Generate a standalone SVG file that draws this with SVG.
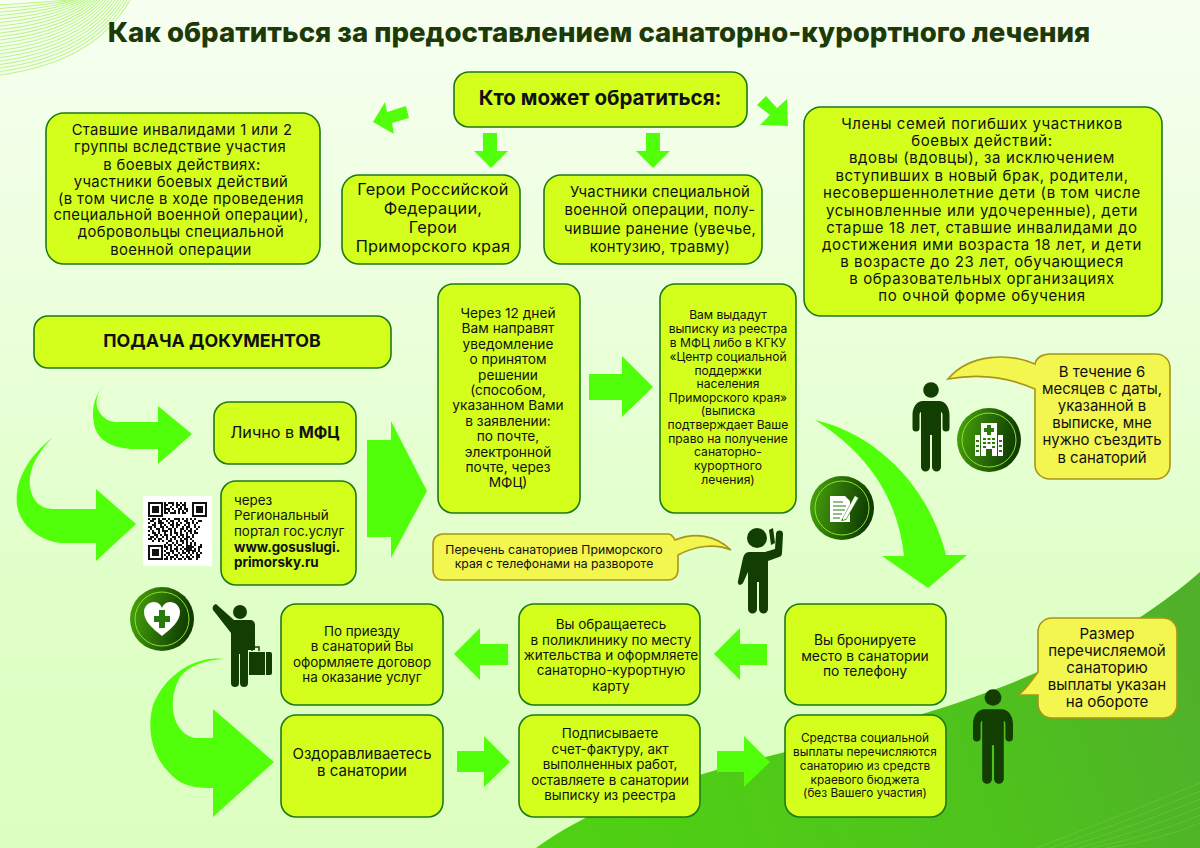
<svg xmlns="http://www.w3.org/2000/svg" width="1200" height="848" viewBox="0 0 1200 848">
<style>
text{font-family:"Inter","Liberation Sans",sans-serif;fill:#111;text-anchor:middle}
.box{fill:#d4ff1c;stroke:#1d7a16;stroke-width:1.6}
.call{fill:#f3f64e;stroke:#a8951a;stroke-width:1.6}
.arr{fill:#52ff0a}
.p{fill:#123e02}
.l{text-anchor:start}
.b{font-weight:700}
.t13{font-size:13.4px}
.wide{font-size:14.800px;letter-spacing:.38px}
.fam{font-size:15px;letter-spacing:.6px}
.ic{fill:#fff}
.wl{fill:none;stroke:#bdf58c;stroke-width:1.100}
.wl2{fill:none;stroke:#7fd85a;stroke-width:1;opacity:.35}
</style>
<defs>
<linearGradient id="bg" x1="0" y1="0" x2="0" y2="1"><stop offset="0" stop-color="#f7fff1"/><stop offset=".7" stop-color="#e0ffc8"/><stop offset="1" stop-color="#dcffc0"/></linearGradient>
<linearGradient id="gr" gradientUnits="userSpaceOnUse" x1="600" y1="848" x2="1200" y2="640"><stop offset="0" stop-color="#4fd014"/><stop offset=".6" stop-color="#4ec31c"/><stop offset="1" stop-color="#50b02a"/></linearGradient>
<linearGradient id="badge" x1="0" y1="0" x2="1" y2="0.2"><stop offset="0" stop-color="#4aa90c"/><stop offset="1" stop-color="#0f3a02"/></linearGradient>
<g id="badgeBase"><circle r="32" fill="url(#badge)"/><circle r="27" fill="none" stroke="#8fe02e" stroke-width="1"/></g>
<g id="person"><circle cx="0" cy="8" r="7.8"/><path d="M-8,19H8C14,19 18.5,25 18.5,33V46A3.5,3.5 0 0 1 11.5,46V33C11.5,31 10.5,30 10,30V85A4.5,4.5 0 0 1 1,85V53H-1V85A4.5,4.5 0 0 1 -10,85V30C-10.500,30 -11.5,31 -11.5,33V46A3.5,3.5 0 0 1 -18.5,46V33C-18.5,25 -14,19 -8,19Z"/></g>
</defs>
<rect width="1200" height="848" fill="url(#bg)"/>
<path d="M536,848C585,812 645,791 706,773C780,751 860,737 919,715C990,693 1105,655 1200,572V848Z" fill="url(#gr)"/>
<g id="bottom-lines" class="wl2">
<path d="M1036,848Q1110,820 1200,783"/><path d="M1050,848Q1120,824 1200,791"/><path d="M1064,848Q1130,828 1200,799"/><path d="M1078,848Q1140,832 1200,807"/><path d="M1092,848Q1150,836 1200,815"/><path d="M1106,848Q1160,840 1200,823"/>
</g>
<g id="corner-lines" class="wl">
<path d="M130,0Q95,62 0,75"/><path d="M127,0Q92,59 0,71.500"/><path d="M124,0Q89.500,56 0,68"/><path d="M121,0Q87,53 0,64.500"/><path d="M118,0Q84.500,50 0,61"/><path d="M115,0Q82,47 0,57.500"/><path d="M112,0Q79.500,44 0,54"/><path d="M109,0Q77,41 0,50.500"/><path d="M106,0Q74.500,38 0,47"/><path d="M103,0Q72,35 0,43.500"/><path d="M100,0Q69.500,32 0,40"/><path d="M97,0Q67,29 0,36.500"/><path d="M94,0Q64.500,26 0,33"/><path d="M91,0Q62,23 0,29.500"/><path d="M88,0Q59.500,20 0,26"/><path d="M85,0Q57,17 0,22.500"/><path d="M82,0Q54.500,14 0,19"/><path d="M79,0Q52,11 0,15.500"/><path d="M76,0Q49.500,8 0,12"/><path d="M73,0Q47,5 0,8.500"/><path d="M70,0Q44.500,2 0,5"/>
</g>
<text id="title" x="599" y="42" font-size="27.600" font-weight="800" style="fill:#1d3a08">Как обратиться за предоставлением санаторно-курортного лечения</text>

<g id="connectors">
<polygon class="arr" points="373,122 385,102 387,112 406,106 409,118 392,123 394,134"/>
<polygon class="arr" points="483,133 497,133 497,151 508,151 491,168 474,151 483,151"/>
<polygon class="arr" points="646,133 660,133 660,151 670,151 653,168 636,151 646,151"/>
<polygon class="arr" points="766,96 777,108 787,99 788,126 760,125 770,115 757,105"/>
<path class="arr" d="M105,385C96,392 94,405 100,413C105,420 111,422 117,422H158V406L192,434L158,464V449H135C112,449 97,440 94,424C91,408 95,393 105,385Z"/>
<path class="arr" d="M52,438C36,455 28,470 30,487C32,500 40,509 53,509H96V489L136,524L96,561V543H60C38,540 20,525 17,505C14,480 30,455 52,438Z"/>
<polygon class="arr" points="367,440 391,440 391,421 427,491 391,558 391,537 367,537"/>
<polygon class="arr" points="589,374 622,374 622,356 653,387 622,417 622,400 589,400"/>
<path class="arr" d="M815,420C880,435 930,490 946,555H967L928,588L882,556H904C898,500 870,455 815,420Z"/>
<polygon class="arr" points="767,644 740,644 740,628 714,654 740,680 740,665 767,665"/>
<polygon class="arr" points="508,644 480,644 480,628 454,654 480,680 480,665 508,665"/>
<polygon class="arr" points="457,751 484,751 484,736 510,762 484,787 484,772 457,772"/>
<polygon class="arr" points="717,751 744,751 744,736 770,762 744,787 744,772 717,772"/>
<path class="arr" d="M225,659C195,655 165,675 153,705C145,735 155,765 180,782C190,787 200,788 213,788V817L274,762L213,709V738H195C175,735 165,705 180,677C190,665 205,660 225,659Z"/>
</g>

<g id="n-who"><rect class="box" x="454" y="72" width="293" height="55" rx="15"/><text x="600" y="105" font-size="20.500" class="b">Кто может обратиться:</text></g>
<g id="n-disabled"><rect class="box" x="46" y="113" width="274" height="151" rx="18"/><text class="wide" x="182"><tspan x="182" y="135">Ставшие инвалидами 1 или 2</tspan><tspan x="180" y="152">группы вследствие участия</tspan><tspan x="182" y="170">в боевых действиях:</tspan><tspan x="181" y="187">участники боевых действий</tspan><tspan x="181" y="204">(в том числе в ходе проведения</tspan><tspan x="181" y="220">специальной военной операции),</tspan><tspan x="181" y="237">добровольцы специальной</tspan><tspan x="181" y="255">военной операции</tspan></text></g>
<g id="n-heroes"><rect class="box" x="342" y="175" width="178" height="89" rx="17"/><text x="433" font-size="16.300" letter-spacing=".3"><tspan x="433" y="195">Герои Российской</tspan><tspan x="433" y="214">Федерации,</tspan><tspan x="433" y="233">Герои</tspan><tspan x="433" y="252">Приморского края</tspan></text></g>
<g id="n-svo"><rect class="box" x="544" y="175" width="218" height="89" rx="17"/><text font-size="14.800" letter-spacing=".3" x="660"><tspan x="660" y="197">Участники специальной</tspan><tspan x="660" y="215">военной операции, полу-</tspan><tspan x="660" y="234">чившие ранение (увечье,</tspan><tspan x="660" y="252">контузию, травму)</tspan></text></g>
<g id="n-family"><rect class="box" x="804" y="107" width="358" height="209" rx="17"/><text class="fam" x="982"><tspan x="982" y="129">Члены семей погибших участников</tspan><tspan x="982" y="146">боевых действий:</tspan><tspan x="982" y="163">вдовы (вдовцы), за исключением</tspan><tspan x="982" y="181">вступивших в новый брак, родители,</tspan><tspan x="982" y="198">несовершеннолетние дети (в том числе</tspan><tspan x="982" y="216">усыновленные или удочеренные), дети</tspan><tspan x="982" y="233">старше 18 лет, ставшие инвалидами до</tspan><tspan x="982" y="250">достижения ими возраста 18 лет, и дети</tspan><tspan x="982" y="267">в возрасте до 23 лет, обучающиеся</tspan><tspan x="982" y="284">в образовательных организациях</tspan><tspan x="982" y="301">по очной форме обучения</tspan></text></g>
<g id="n-submit"><rect class="box" x="34" y="316" width="357" height="52" rx="14"/><text x="212" y="347" font-size="17.800" class="b">ПОДАЧА ДОКУМЕНТОВ</text></g>
<g id="n-mfc"><rect class="box" x="214" y="402" width="142" height="62" rx="15"/><text x="285" y="438" font-size="16.200">Лично в <tspan class="b">МФЦ</tspan></text></g>
<g id="qr">
<rect x="143" y="496" width="69" height="70" fill="#fff"/>
<path fill="none" stroke="#111" stroke-width="2" d="M164,503h2m2,0h6m2,0h2m2,0h2m2,0h2M164,505h4m4,0h2m2,0h4m2,0h4M164,507h2m4,0h2m4,0h2m2,0h2m2,0h2M164,509h6m2,0h2m4,0h4m2,0h4M164,511h2m2,0h2m4,0h2m2,0h2m2,0h2m2,0h2M164,513h4m2,0h6m2,0h2m2,0h4M148,519h2m2,0h4m2,0h2m2,0h4m2,0h2m4,0h6m2,0h2m2,0h2m2,0h2m2,0h2M150,521h4m4,0h4m4,0h2m2,0h4m4,0h2m4,0h4m4,0h2m4,0h4M148,523h2m4,0h2m2,0h6m4,0h2m2,0h2m2,0h2m2,0h2m4,0h4m2,0h2m2,0h2M152,525h4m4,0h2m2,0h2m4,0h4m2,0h4m4,0h2m2,0h2m4,0h2M148,527h4m2,0h2m4,0h4m2,0h2m4,0h2m2,0h2m4,0h2m2,0h4m4,0h2m2,0h2M150,529h2m4,0h4m2,0h2m4,0h4m2,0h2m4,0h4m2,0h2m2,0h2m4,0h2M148,531h2m2,0h2m4,0h2m2,0h6m2,0h2m2,0h2m4,0h2m2,0h2m2,0h4m2,0h2M152,533h4m2,0h2m4,0h2m4,0h2m2,0h4m2,0h2m4,0h2m2,0h2m2,0h4M148,535h2m4,0h4m2,0h2m2,0h4m2,0h2m4,0h2m2,0h4m2,0h2m4,0h2M150,537h4m2,0h2m4,0h2m2,0h2m4,0h4m2,0h2m2,0h2m2,0h4m2,0h2M148,539h4m2,0h2m2,0h4m4,0h2m2,0h2m2,0h2m4,0h2m2,0h4m2,0h2M152,541h2m4,0h2m2,0h2m4,0h4m4,0h2m2,0h4m2,0h2m4,0h2M166,543h2m4,0h2m2,0h2m4,0h2m2,0h2m2,0h2m2,0h2M164,545h2m2,0h4m2,0h2m2,0h4m4,0h2m2,0h2m2,0h2m4,0h2M164,547h4m2,0h2m4,0h2m4,0h2m2,0h4m2,0h2m4,0h4M166,549h2m2,0h2m2,0h4m2,0h2m2,0h2m4,0h2m2,0h2m2,0h2M164,551h2m4,0h4m2,0h2m4,0h2m2,0h4m2,0h4m2,0h2M166,553h4m2,0h2m4,0h2m2,0h4m2,0h2m2,0h2m2,0h2m2,0h2M164,555h2m2,0h2m4,0h4m2,0h2m4,0h2m2,0h2m4,0h4M166,557h2m2,0h4m2,0h2m4,0h2m2,0h4m2,0h2m2,0h4M164,559h4m2,0h2m2,0h2m2,0h4m2,0h2m2,0h4m4,0h2"/>
<path fill="none" stroke="#111" stroke-width="2" d="M149,503h13v13h-13zM193,503h13v13h-13zM149,546h13v13h-13z"/>
<path fill="#111" d="M152,506h7v7h-7zM196,506h7v7h-7zM152,549h7v7h-7zM186,545h6v6h-6z"/>
</g>
<g id="n-portal"><rect class="box" x="221" y="481" width="135" height="104" rx="15"/><text class="t13 l" x="234"><tspan x="234" y="505">через</tspan><tspan x="234" y="520">Региональный</tspan><tspan x="234" y="536">портал гос.услуг</tspan><tspan x="234" y="552" class="b">www.gosuslugi.</tspan><tspan x="234" y="567" class="b">primorsky.ru</tspan></text></g>
<g id="n-notice"><rect class="box" x="438" y="284" width="142" height="229" rx="15"/><text font-size="13.700" x="508"><tspan x="508" y="318">Через 12 дней</tspan><tspan x="508" y="333">Вам направят</tspan><tspan x="508" y="349">уведомление</tspan><tspan x="508" y="364">о принятом</tspan><tspan x="508" y="380">решении</tspan><tspan x="508" y="395">(способом,</tspan><tspan x="508" y="410">указанном Вами</tspan><tspan x="508" y="426">в заявлении:</tspan><tspan x="508" y="441">по почте,</tspan><tspan x="508" y="457">электронной</tspan><tspan x="508" y="472">почте, через</tspan><tspan x="508" y="487">МФЦ)</tspan></text></g>
<g id="n-extract"><rect class="box" x="660" y="284" width="136" height="229" rx="15"/><text font-size="12.100" x="728"><tspan x="728" y="319">Вам выдадут</tspan><tspan x="728" y="333">выписку из реестра</tspan><tspan x="728" y="347">в МФЦ либо в КГКУ</tspan><tspan x="728" y="361">«Центр социальной</tspan><tspan x="728" y="375">поддержки</tspan><tspan x="728" y="388">населения</tspan><tspan x="728" y="402">Приморского края»</tspan><tspan x="728" y="415">(выписка</tspan><tspan x="728" y="429">подтверждает Ваше</tspan><tspan x="728" y="443">право на получение</tspan><tspan x="728" y="456">санаторно-</tspan><tspan x="728" y="470">курортного</tspan><tspan x="728" y="484">лечения)</tspan></text></g>
<g id="n-arrive"><rect class="box" x="281" y="604" width="162" height="101" rx="15"/><text class="t13" x="362"><tspan x="362" y="636">По приезду</tspan><tspan x="362" y="651">в санаторий Вы</tspan><tspan x="362" y="667">оформляете договор</tspan><tspan x="362" y="682">на оказание услуг</tspan></text></g>
<g id="n-clinic"><rect class="box" x="519" y="604" width="181" height="101" rx="15"/><text font-size="13.500" x="611"><tspan x="611" y="629">Вы обращаетесь</tspan><tspan x="611" y="645">в поликлинику по месту</tspan><tspan x="611" y="660">жительства и оформляете</tspan><tspan x="611" y="675">санаторно-курортную</tspan><tspan x="611" y="691">карту</tspan></text></g>
<g id="n-book"><rect class="box" x="785" y="604" width="161" height="101" rx="15"/><text font-size="13.800" x="865"><tspan x="865" y="645">Вы бронируете</tspan><tspan x="865" y="661">место в санатории</tspan><tspan x="865" y="676">по телефону</tspan></text></g>
<g id="n-recover"><rect class="box" x="281" y="715" width="162" height="102" rx="15"/><text font-size="15" x="362"><tspan x="362" y="759">Оздоравливаетесь</tspan><tspan x="362" y="776">в санатории</tspan></text></g>
<g id="n-sign"><rect class="box" x="519" y="715" width="181" height="102" rx="15"/><text class="t13" x="610"><tspan x="610" y="738">Подписываете</tspan><tspan x="610" y="754">счет-фактуру, акт</tspan><tspan x="610" y="769">выполненных работ,</tspan><tspan x="610" y="785">оставляете в санатории</tspan><tspan x="610" y="800">выписку из реестра</tspan></text></g>
<g id="n-funds"><rect class="box" x="785" y="715" width="161" height="102" rx="15"/><text font-size="11.800" x="865"><tspan x="865" y="742">Средства социальной</tspan><tspan x="865" y="756">выплаты перечисляются</tspan><tspan x="865" y="770">санаторию из средств</tspan><tspan x="865" y="784">краевого бюджета</tspan><tspan x="865" y="797">(без Вашего участия)</tspan></text></g>

<g id="callout-6m"><path class="call" d="M948,379C970,353 1010,353 1035,364C1036,358 1042,354 1050,354H1156C1164,354 1170,360 1170,368V465C1170,473 1164,479 1156,479H1050C1042,479 1035,473 1035,465V389C1010,378 980,373 948,379Z"/><text font-size="14.900" x="1102"><tspan x="1102" y="377">В течение 6</tspan><tspan x="1102" y="394">месяцев с даты,</tspan><tspan x="1102" y="411">указанной в</tspan><tspan x="1102" y="428">выписке, мне</tspan><tspan x="1102" y="445">нужно съездить</tspan><tspan x="1102" y="463">в санаторий</tspan></text></g>
<g id="callout-list"><path class="call" d="M675,540C695,532 715,535 731,550C715,543 695,546 678,555V570C678,576 674,580 668,580H443C437,580 433,576 433,570V544C433,538 437,534 443,534H668C671,534 673,536 675,540Z"/><text font-size="12.250" x="554"><tspan x="554" y="554">Перечень санаториев Приморского</tspan><tspan x="554" y="568">края с телефонами на развороте</tspan></text></g>
<g id="callout-pay"><path class="call" d="M1018,695H1038V704C1038,712 1044,718 1052,718H1163C1171,718 1177,712 1177,704V632C1177,624 1171,618 1163,618H1052C1044,618 1038,624 1038,632V672C1032,680 1026,690 1018,695Z"/><text font-size="15.100" x="1107"><tspan x="1107" y="639">Размер</tspan><tspan x="1107" y="656">перечисляемой</tspan><tspan x="1107" y="673">санаторию</tspan><tspan x="1107" y="690">выплаты указан</tspan><tspan x="1107" y="707">на обороте</tspan></text></g>

<g id="person-1" class="p"><use href="#person" transform="translate(931,382)"/></g>
<g id="person-2" class="p"><use href="#person" transform="translate(993,689) scale(1.08,1.06)"/></g>
<g id="person-raised" class="p">
<circle cx="757" cy="538" r="10"/>
<path d="M749,552H765L775,549L776,534A3.500,3.500 0 0 1 783,534L782,553Q782,556 779,557L768,561V609A4.500,4.500 0 0 1 759,609V582H757V609A4.500,4.500 0 0 1 748,609V572L743,583C741,586 737,585 738,581L743,558C744,554 746,552 749,552Z"/>
<path d="M769,530L773,528L775,543L771,545Z"/>
</g>
<g id="person-travel" class="p">
<circle cx="240" cy="612" r="7"/>
<path d="M214,605L216,604L234,620H250C253,620 255,622 255,625V650H248V683A4,4 0 0 1 240,683V654H239V683A4,4 0 0 1 231,683V633L213,610C212,608 213,606 214,605Z"/>
<path d="M249,652H265V675H249Z"/>
<path d="M266,652H270Q272,652 272,654V673Q272,675 270,675H266Z"/>
<path d="M252,651V647H259V651" fill="none" stroke="#123e02" stroke-width="1.500"/>
</g>

<g id="badge-hospital" transform="translate(989,440)"><use href="#badgeBase"/><path class="ic" d="M-8,-17H8V16H3V9H-3V16H-8Z"/><path class="ic" d="M-14,-5H-9V16H-14ZM9,-5H14V16H9Z"/><path d="M-2,-15H2V-12H5V-8H2V-5H-2V-8H-5V-12H-2Z" fill="#2a7a0c"/><path fill="#2a7a0c" d="M-6,-2h3v2h-3zM-1.500,-2h3v2h-3zM3,-2h3v2h-3zM-6,2h3v2h-3zM-1.500,2h3v2h-3zM3,2h3v2h-3zM-6,6h3v2h-3zM3,6h3v2h-3zM-13,0h3v2h-3zM-13,5h3v2h-3zM-13,10h3v2h-3zM10,0h3v2h-3zM10,5h3v2h-3zM10,10h3v2h-3z"/></g>
<g id="badge-doc" transform="translate(842,508)"><use href="#badgeBase"/><path class="ic" d="M-12,-12H3L8,-7V14H-12Z"/><path d="M-1,13L13,-13L17,-10L4,12Z" fill="#2a7a0c"/><path class="ic" d="M1,10L13,-12L16,-10L4,11L1,12Z"/><path stroke="#2a7a0c" stroke-width="1.200" d="M-9,-6H1M-9,-2H4M-9,2H3M-9,6H0M-9,10H-2"/></g>
<g id="badge-heart" transform="translate(162,619)"><use href="#badgeBase"/><path class="ic" d="M0,17C-10,9 -18,2 -18,-7C-18,-13 -13,-17 -8,-17C-4,-17 -1,-14 0,-11C1,-14 4,-17 8,-17C13,-17 18,-13 18,-7C18,2 10,9 0,17Z"/><path fill="#2a7a0c" d="M-3,-9H3V-3H8V3H3V9H-3V3H-8V-3H-3Z"/></g>
</svg>
